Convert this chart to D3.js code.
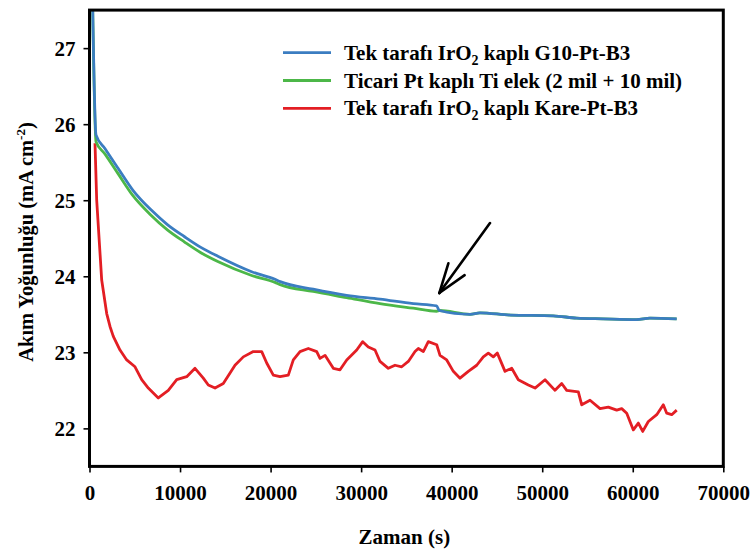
<!DOCTYPE html>
<html><head><meta charset="utf-8">
<script src="https://cdn.jsdelivr.net/npm/d3@7"></script>
<style>body{margin:0;background:#fff}svg{display:block}text{font-family:"Liberation Serif","Times New Roman",serif;font-weight:bold;fill:#000}</style>
</head><body><svg id="c" width="751" height="550"></svg>
<script>
// ---- data ----
const xTicks = [0,10000,20000,30000,40000,50000,60000,70000];
const yTicks = [22,23,24,25,26,27];
const seriesNames = ["Tek tarafı IrO|2| kaplı G10-Pt-B3","Ticari Pt kaplı Ti elek (2 mil + 10 mil)","Tek tarafı IrO|2| kaplı Kare-Pt-B3"];
const seriesColors = ["#3b7dc1","#4cb748","#e31e24"];
const blueT = [300,718,1700,3154,4800,6822,8600,10500,12300,14230,17910,20490,21060,24710,28400,32080,35760,38340,38630,42030,43120,46500,51220,53800,56720,60420,61900,64850];
const blueV = [27.9,25.86,25.68,25.42,25.13,24.87,24.68,24.52,24.38,24.26,24.06,23.96,23.93,23.83,23.75,23.70,23.64,23.61,23.55,23.50,23.52,23.49,23.48,23.45,23.44,23.43,23.45,23.44];
const greenT = [300,718,1700,3154,4800,6822,8600,10500,12300,14230,17910,20490,21060,24710,28400,32080,35760,38340,38630,42030,43120,46500,51220,53800,56720,60420,61900,64850];
const greenV = [27.9,25.77,25.61,25.35,25.06,24.80,24.61,24.45,24.31,24.19,24.01,23.92,23.89,23.80,23.72,23.64,23.58,23.54,23.55,23.50,23.52,23.49,23.48,23.45,23.44,23.43,23.45,23.44];
const redT = [607,795,1347,1900,2264,2629,3369,4109,5025,5765,6494,7599,8703,9631,10736,11652,12569,13121,13861,14778,16070,16987,18092,19020,19572,20301,21041,21958,22510,23250,24167,25094,25459,26011,26928,27668,28408,29512,30175,30793,31534,32086,33003,33743,34483,35212,35952,36316,36868,37420,38348,38712,39452,40181,40921,41838,42766,43495,44047,44599,45041,45892,46632,47361,48465,49205,50310,51414,52154,52706,53988,54363,55280,56385,57301,58229,58781,59334,60063,60616,61101,61720,62647,63376,63751,64303,64856];
const redV = [25.75,25.0,23.95,23.51,23.34,23.21,23.03,22.90,22.81,22.64,22.53,22.40,22.50,22.64,22.68,22.79,22.66,22.57,22.53,22.59,22.83,22.94,23.01,23.01,22.86,22.70,22.68,22.70,22.90,23.01,23.05,23.01,22.92,22.96,22.79,22.77,22.90,23.03,23.14,23.07,23.03,22.88,22.79,22.83,22.81,22.88,23.01,23.05,23.01,23.14,23.10,22.96,22.90,22.75,22.66,22.75,22.83,22.94,22.99,22.94,22.99,22.75,22.79,22.64,22.57,22.53,22.64,22.50,22.59,22.50,22.48,22.31,22.37,22.26,22.28,22.24,22.26,22.20,21.98,22.07,21.96,22.09,22.18,22.31,22.20,22.18,22.24];
const arrowTail = [44233,24.70];
const arrowTip = [38633,23.78];

// ---- layout ----
const L=89.5,R=723.3,T=10.1,B=466.4;
const svg=d3.select("#c");
const x=d3.scaleLinear().domain([0,70000]).range([L,R]);
const y=d3.scaleLinear().domain([21.5,27.5]).range([B,T]);

svg.append("defs").append("clipPath").attr("id","clip").append("rect")
  .attr("x",L).attr("y",T).attr("width",R-L).attr("height",B-T);

const smooth=d3.line().x(d=>x(d[0])).y(d=>y(d[1])).curve(d3.curveMonotoneX);
const straight=d3.line().x(d=>x(d[0])).y(d=>y(d[1]));
const series=[
  d3.zip(blueT,blueV), d3.zip(greenT,greenV), d3.zip(redT,redV)
];
const g=svg.append("g").attr("clip-path","url(#clip)");
[2,1,0].forEach(i=>{
  g.append("path").datum(series[i]).attr("d",i===2?straight:smooth).attr("fill","none")
   .attr("stroke",seriesColors[i]).attr("stroke-width",2.8).attr("stroke-linejoin","round");
});

// axes
const xa=d3.axisBottom(x).tickValues(xTicks).tickSize(6).tickFormat(d3.format("d"));
const ya=d3.axisLeft(y).tickValues(yTicks).tickSize(6).tickFormat(d3.format("d"));
const gx=svg.append("g").attr("transform",`translate(0,${B})`).call(xa);
const gy=svg.append("g").attr("transform",`translate(${L},0)`).call(ya);
[gx,gy].forEach(a=>{a.select(".domain").remove();a.selectAll("line").attr("stroke","#000").attr("stroke-width",1.6);
  a.selectAll("text").style("font-family",'"Liberation Serif",serif').style("font-weight","bold").style("font-size","21px").attr("fill","#000");});
gx.selectAll("text").attr("y",19).attr("dy","0.71em");
gy.selectAll("text").attr("x",-14).attr("dy","0.35em");

// frame
svg.append("rect").attr("x",L).attr("y",T).attr("width",R-L).attr("height",B-T)
  .attr("fill","none").attr("stroke","#000").attr("stroke-width",3);

// axis titles
svg.append("text").attr("x",(L+R)/2-2).attr("y",544).attr("text-anchor","middle").style("font-size","21px").text("Zaman (s)");
const yt=svg.append("text").attr("transform",`translate(33,${242}) rotate(-90)`).attr("text-anchor","middle").style("font-size","20.5px");
yt.append("tspan").text("Akım Yoğunluğu (mA cm");
yt.append("tspan").attr("dy",-8).style("font-size","13px").text("-2");
yt.append("tspan").attr("dy",8).text(")");

// legend
const lg=svg.append("g");
seriesNames.forEach((n,i)=>{
  const yy=52.7+i*27.8;
  lg.append("line").attr("x1",283).attr("x2",331).attr("y1",yy).attr("y2",yy).attr("stroke",seriesColors[i]).attr("stroke-width",2.8);
  const t=lg.append("text").attr("x",344).attr("y",yy+7).style("font-size","21px");
  const parts=n.split("|");
  t.append("tspan").text(parts[0]);
  if(parts.length>1){
    t.append("tspan").attr("dy",5).style("font-size","14px").text(parts[1]);
    t.append("tspan").attr("dy",-5).text(parts[2]);
  }
});

// arrow
const ax0=x(arrowTail[0]),ay0=y(arrowTail[1]),ax1=x(arrowTip[0]),ay1=y(arrowTip[1]);
const ang=Math.atan2(ay1-ay0,ax1-ax0), hl=31, spread=0.33;
const ag=svg.append("g").attr("stroke","#000").attr("stroke-width",2.6).attr("stroke-linecap","round").attr("fill","none");
ag.append("line").attr("x1",ax0).attr("y1",ay0).attr("x2",ax1).attr("y2",ay1);
[-1,1].forEach(s=>{
  ag.append("line").attr("x1",ax1).attr("y1",ay1)
    .attr("x2",ax1-hl*Math.cos(ang+s*spread)).attr("y2",ay1-hl*Math.sin(ang+s*spread));
});
</script></body></html>
